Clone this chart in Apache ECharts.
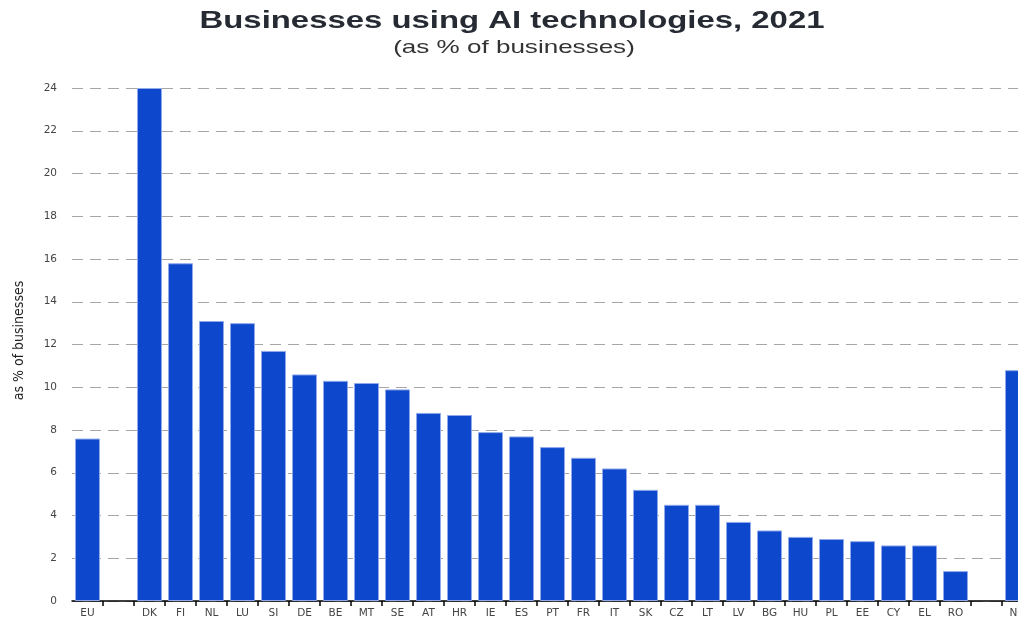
<!DOCTYPE html>
<html>
<head>
<meta charset="utf-8">
<script src="https://cdn.jsdelivr.net/npm/echarts@6/dist/echarts.min.js"></script>
<style>
  html, body { margin: 0; padding: 0; background: #fff; overflow: hidden; }
  /* the plot runs on past the right edge of the window, so the canvas is wider than the page */
  #chart { width: 1040px; height: 622px; }
</style>
</head>
<body>
<div id="chart"></div>
<script>
// Share of businesses using AI technologies in 2021, by country (%)
// Empty strings leave a blank slot between the EU aggregate, the member states and Norway.
const countries = ['EU', '', 'DK', 'FI', 'NL', 'LU', 'SI', 'DE', 'BE', 'MT', 'SE', 'AT', 'HR', 'IE', 'ES',
  'PT', 'FR', 'IT', 'SK', 'CZ', 'LT', 'LV', 'BG', 'HU', 'PL', 'EE', 'CY', 'EL', 'RO', '', 'NO'];
const shares = [7.6, null, 24.0, 15.8, 13.1, 13.0, 11.7, 10.6, 10.3, 10.2, 9.9, 8.8, 8.7, 7.9, 7.7,
  7.2, 6.7, 6.2, 5.2, 4.5, 4.5, 3.7, 3.3, 3.0, 2.9, 2.8, 2.6, 2.6, 1.4, null, 10.8];
const yTicks = [0, 2, 4, 6, 8, 10, 12, 14, 16, 18, 20, 22, 24];

const titleText = 'Businesses using AI technologies, 2021';
const subtitleText = '(as % of businesses)';

const chart = echarts.init(document.getElementById('chart'), null, { renderer: 'canvas' });

chart.setOption({
  animation: false,
  backgroundColor: '#ffffff',
  // heading drawn as wide-set text centred over the page
  graphic: [
    {
      type: 'text',
      x: 512,
      y: 21,
      scaleX: 1.37,
      style: {
        text: titleText,
        font: 'bold 24px "Liberation Sans", Arial, sans-serif',
        fill: '#262a33',
        align: 'center',
        verticalAlign: 'middle'
      }
    },
    {
      type: 'text',
      x: 514,
      y: 48,
      scaleX: 1.37,
      style: {
        text: subtitleText,
        font: '19px "Liberation Sans", Arial, sans-serif',
        fill: '#333333',
        align: 'center',
        verticalAlign: 'middle'
      }
    }
  ],
  grid: {
    left: 72,
    top: 88,
    width: 961,
    height: 513,
    containLabel: false
  },
  xAxis: {
    type: 'category',
    data: countries,
    axisLine: { show: true, lineStyle: { color: '#000000', width: 1.5 } },
    axisTick: {
      show: true,
      length: 5,
      interval: function (index) { return index > 0; },
      lineStyle: { color: '#000000', width: 1.5 }
    },
    axisLabel: {
      interval: 0,
      margin: 7,
      fontFamily: 'DejaVu Sans, sans-serif',
      fontSize: 10.5,
      color: '#444444'
    },
    splitLine: { show: false }
  },
  yAxis: {
    type: 'value',
    min: yTicks[0],
    max: yTicks[yTicks.length - 1],
    interval: 2,
    name: 'as % of businesses',
    nameLocation: 'middle',
    nameGap: 46,
    nameRotate: 90,
    nameTextStyle: {
      fontFamily: 'Liberation Sans Narrow, DejaVu Sans Condensed, Arial Narrow, sans-serif',
      fontSize: 14,
      color: '#222222',
      padding: [0, 0, 0, 8]
    },
    axisLine: { show: false },
    axisTick: { show: false },
    axisLabel: {
      margin: 15,
      fontFamily: 'DejaVu Sans, sans-serif',
      fontSize: 10.5,
      color: '#444444',
      formatter: function (v) { return yTicks.indexOf(v) >= 0 ? String(v) : ''; }
    },
    splitLine: {
      show: true,
      lineStyle: { color: '#a6a6a6', width: 1.2, type: [11, 7] }
    }
  },
  series: [{
    type: 'bar',
    data: shares,
    barWidth: 25,
    itemStyle: {
      color: '#0d47cb',
      borderColor: '#8fa9ea',
      borderWidth: 1
    }
  }]
});
</script>
</body>
</html>
